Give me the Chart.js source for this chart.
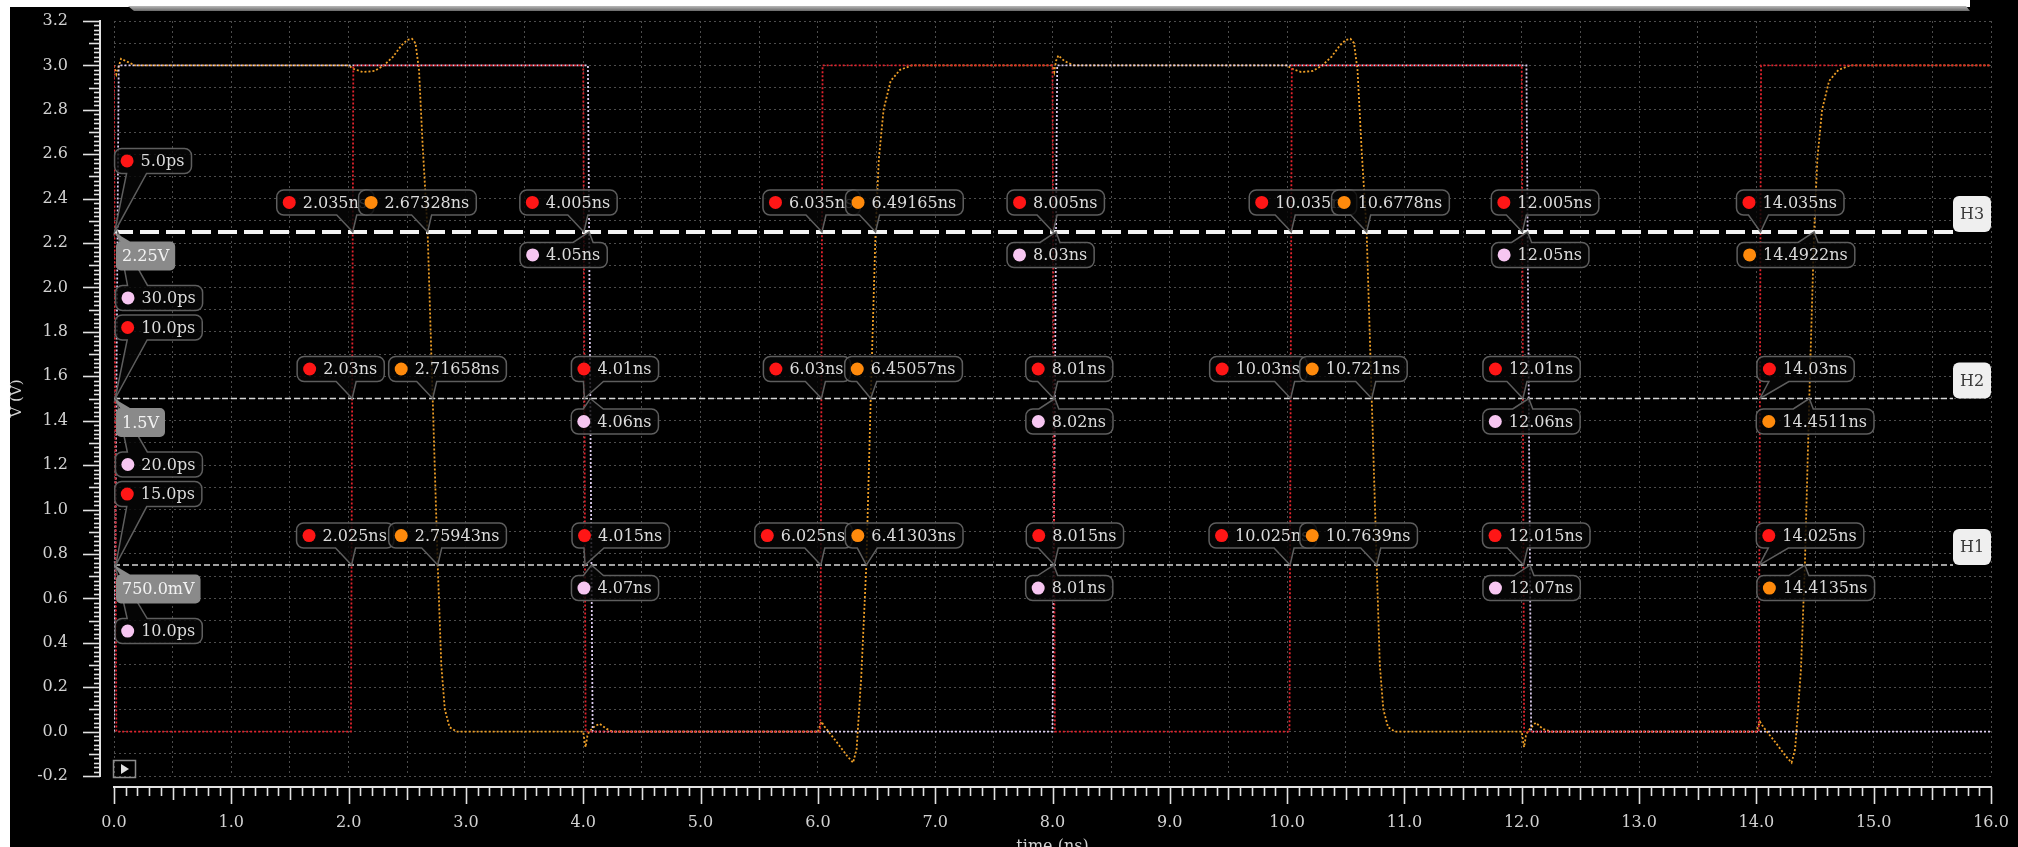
<!DOCTYPE html>
<html>
<head>
<meta charset="utf-8">
<title>Transient response</title>
<script src="https://cdn.jsdelivr.net/npm/chart.js@4.4.1/dist/chart.umd.min.js"></script>
<style>
  html, body { margin: 0; padding: 0; background: #000; overflow: hidden; }
  canvas { display: block; }
</style>
</head>
<body>
<canvas id="scope" width="2018" height="847"></canvas>
<script>
// ---------------- data ----------------
const timeRange = [0, 16];            // ns
const voltRange = [-0.2, 3.2];        // V
const levels = [0.75, 1.5, 2.25];     // threshold cursors H1, H2, H3
const levelNames = ['H1', 'H2', 'H3'];
const levelValueText = ['750.0mV', '1.5V', '2.25V'];

// input (red): toggles every 2 ns, 20 ps edges
const vinT = [0, 0.02, 2.02, 2.04, 4.0, 4.02, 6.02, 6.04, 8.0, 8.02, 10.02, 10.04, 12.0, 12.02, 14.02, 14.04, 16];
const vinV = [3.0, 0.0, 0.0, 3.0, 3.0, 0.0, 0.0, 3.0, 3.0, 0.0, 0.0, 3.0, 3.0, 0.0, 0.0, 3.0, 3.0];

// clock (pink): 8 ns period, 40 ps edges
const clkT = [0, 0.04, 4.04, 4.08, 8.0, 8.04, 12.04, 12.08, 16];
const clkV = [0.0, 3.0, 3.0, 0.0, 0.0, 3.0, 3.0, 0.0, 0.0];

// output (orange)
const outT = [
  0, 0.02, 0.06, 0.1, 0.18,
  2.0, 2.04, 2.12, 2.22, 2.3, 2.38, 2.45, 2.5, 2.54, 2.57, 2.6, 2.63, 2.67328, 2.71658, 2.75943, 2.79, 2.82, 2.86, 2.92,
  4.0, 4.01, 4.02, 4.035, 4.05, 4.1, 4.14, 4.2, 4.25,
  6.0, 6.02, 6.03, 6.06, 6.15, 6.25, 6.3, 6.33, 6.37, 6.41303, 6.45057, 6.49165, 6.52, 6.56, 6.62, 6.7, 6.8,
  8.0, 8.015, 8.03, 8.05, 8.1, 8.18,
  10.0, 10.04, 10.12, 10.22, 10.3, 10.38, 10.45, 10.5, 10.54, 10.57, 10.6, 10.635, 10.6778, 10.721, 10.7639, 10.79, 10.82, 10.86, 10.92,
  12.0, 12.01, 12.02, 12.035, 12.05, 12.1, 12.12, 12.18, 12.25,
  14.0, 14.02, 14.03, 14.06, 14.15, 14.25, 14.3, 14.33, 14.38, 14.4135, 14.4511, 14.4922, 14.52, 14.56, 14.62, 14.7, 14.8,
  16.0
];
const outV = [
  3.0, 2.96, 3.03, 3.02, 3.0,
  3.0, 2.985, 2.97, 2.975, 3.0, 3.04, 3.09, 3.115, 3.12, 3.1, 2.98, 2.65, 2.25, 1.5, 0.75, 0.3, 0.1, 0.02, 0.0,
  0.0, -0.04, -0.07, -0.02, 0.0, 0.025, 0.035, 0.012, 0.0,
  0.0, 0.03, 0.045, 0.02, -0.04, -0.11, -0.14, -0.08, 0.25, 0.75, 1.5, 2.25, 2.58, 2.8, 2.93, 2.98, 3.0,
  3.0, 2.97, 3.02, 3.045, 3.02, 3.0,
  3.0, 2.985, 2.97, 2.975, 3.0, 3.04, 3.09, 3.115, 3.12, 3.1, 2.98, 2.62, 2.25, 1.5, 0.75, 0.3, 0.1, 0.02, 0.0,
  0.0, -0.04, -0.07, -0.02, 0.0, 0.03, 0.04, 0.012, 0.0,
  0.0, 0.03, 0.045, 0.02, -0.04, -0.11, -0.14, -0.08, 0.28, 0.75, 1.5, 2.25, 2.58, 2.8, 2.93, 2.98, 3.0,
  3.0
];

// cursor readouts: [trace, threshold index, crossing time in ns]
const readouts = [
  ['vin', 2, 0.005], ['clk', 2, 0.03], ['vin', 1, 0.010], ['clk', 1, 0.020], ['vin', 0, 0.015], ['clk', 0, 0.010],

  ['vin', 2, 2.035], ['out', 2, 2.67328], ['vin', 2, 4.005], ['clk', 2, 4.05],
  ['vin', 2, 6.035], ['out', 2, 6.49165], ['vin', 2, 8.005], ['clk', 2, 8.03],
  ['vin', 2, 10.035], ['out', 2, 10.6778], ['vin', 2, 12.005], ['clk', 2, 12.05],
  ['vin', 2, 14.035], ['out', 2, 14.4922],

  ['vin', 1, 2.03], ['out', 1, 2.71658], ['vin', 1, 4.01], ['clk', 1, 4.06],
  ['vin', 1, 6.03], ['out', 1, 6.45057], ['vin', 1, 8.01], ['clk', 1, 8.02],
  ['vin', 1, 10.03], ['out', 1, 10.721], ['vin', 1, 12.01], ['clk', 1, 12.06],
  ['vin', 1, 14.03], ['out', 1, 14.4511],

  ['vin', 0, 2.025], ['out', 0, 2.75943], ['vin', 0, 4.015], ['clk', 0, 4.07],
  ['vin', 0, 6.025], ['out', 0, 6.41303], ['vin', 0, 8.015], ['clk', 0, 8.01],
  ['vin', 0, 10.025], ['out', 0, 10.7639], ['vin', 0, 12.015], ['clk', 0, 12.07],
  ['vin', 0, 14.025], ['out', 0, 14.4135]
];

// ---------------- layout ----------------
// readout box offsets in px: [box left minus crossing x, box centre minus threshold y]
const UP = -29.5, DN = 23;
const readoutPlacement = [
  [0, -71], [-2, 66], [0, -71], [-1, 66], [-1, -71], [0, 66],

  [-76, UP], [-69, UP], [-64, UP], [-69, DN],
  [-59, UP], [-30, UP], [-46, UP], [-49, DN],
  [-42, UP], [-35, UP], [-31, UP], [-36, DN],
  [-24, UP], [-77, DN],

  [-55, UP], [-44, UP], [-13, UP], [-19, DN],
  [-58, UP], [-26, UP], [-28, UP], [-29, DN],
  [-81, UP], [-72, UP], [-40, UP], [-46, DN],
  [-3, UP], [-53, DN],

  [-55, UP], [-49, UP], [-13, UP], [-20, DN],
  [-66, UP], [-21, UP], [-28, UP], [-28, DN],
  [-81, UP], [-77, UP], [-41, UP], [-47, DN],
  [-3, UP], [-48, DN]
];

const traceStyle = {
  vin: { line: '#e2232d', dot: '#ff1616' },
  clk: { line: '#dccbee', dot: '#f7c6f1' },
  out: { line: '#ef9f26', dot: '#ff8a0c' }
};

const SERIF = '"DejaVu Serif", "Liberation Serif", serif';

function toPoints(ts, vs) { return ts.map((t, i) => ({ x: t, y: vs[i] })); }

function fmtTime(t) {
  return t < 1 ? (t * 1000).toFixed(1) + 'ps' : String(t) + 'ns';
}

function roundRectPath(ctx, x, y, w, h, r) {
  ctx.beginPath();
  ctx.moveTo(x + r, y);
  ctx.lineTo(x + w - r, y); ctx.arcTo(x + w, y, x + w, y + r, r);
  ctx.lineTo(x + w, y + h - r); ctx.arcTo(x + w, y + h, x + w - r, y + h, r);
  ctx.lineTo(x + r, y + h); ctx.arcTo(x, y + h, x, y + h - r, r);
  ctx.lineTo(x, y + r); ctx.arcTo(x, y, x + r, y, r);
  ctx.closePath();
}

// rounded box with a pointer running to (ax, ay)
function bubblePath(ctx, x, y, w, h, r, ax, ay, b0, b1, tailBottom) {
  ctx.beginPath();
  ctx.moveTo(x + r, y);
  if (!tailBottom) { ctx.lineTo(b0, y); ctx.lineTo(ax, ay); ctx.lineTo(b1, y); }
  ctx.lineTo(x + w - r, y); ctx.arcTo(x + w, y, x + w, y + r, r);
  ctx.lineTo(x + w, y + h - r); ctx.arcTo(x + w, y + h, x + w - r, y + h, r);
  if (tailBottom) { ctx.lineTo(b1, y + h); ctx.lineTo(ax, ay); ctx.lineTo(b0, y + h); }
  ctx.lineTo(x + r, y + h); ctx.arcTo(x, y + h, x, y + h - r, r);
  ctx.lineTo(x, y + r); ctx.arcTo(x, y, x + r, y, r);
  ctx.closePath();
}

// window chrome behind the plot
const backdrop = {
  id: 'backdrop',
  beforeDraw(chart) {
    const ctx = chart.ctx;
    ctx.save();
    ctx.fillStyle = '#000';
    ctx.fillRect(0, 0, chart.width, chart.height);
    ctx.fillStyle = '#ffffff';
    ctx.fillRect(0, 0, 10, chart.height);
    ctx.fillRect(0, 0, 1970, 7);
    const g = ctx.createLinearGradient(0, 6, 0, 11);
    g.addColorStop(0, '#b8b8b8');
    g.addColorStop(1, '#6a6a6a');
    ctx.fillStyle = g;
    ctx.beginPath();
    ctx.moveTo(128, 6); ctx.lineTo(1966, 6); ctx.lineTo(1970, 11); ctx.lineTo(134, 11); ctx.closePath();
    ctx.fill();
    ctx.restore();
  }
};

// ruler-style axes with fine subdivisions
const rulers = {
  id: 'rulers',
  afterDraw(chart) {
    const ctx = chart.ctx;
    const xs = chart.scales.x, ys = chart.scales.y;
    ctx.save();
    ctx.strokeStyle = '#e2e2e2';
    ctx.lineCap = 'butt';

    // vertical ruler
    const rx = 100;
    ctx.lineWidth = 2;
    ctx.beginPath();
    ctx.moveTo(rx, ys.getPixelForValue(voltRange[1]) - 1);
    ctx.lineTo(rx, ys.getPixelForValue(voltRange[0]) + 1);
    ctx.stroke();
    ctx.lineWidth = 1.6;
    for (let k = -10; k <= 160; k++) {
      const v = k * 0.02;
      const y = Math.round(ys.getPixelForValue(v)) + 0.5;
      const len = (k % 10 === 0) ? 17 : (k % 5 === 0 ? 11 : 6);
      ctx.beginPath(); ctx.moveTo(rx - len, y); ctx.lineTo(rx, y); ctx.stroke();
    }

    // horizontal ruler
    const ry = 787;
    ctx.lineWidth = 2;
    ctx.beginPath();
    ctx.moveTo(xs.getPixelForValue(timeRange[0]) - 1, ry);
    ctx.lineTo(xs.getPixelForValue(timeRange[1]) + 1, ry);
    ctx.stroke();
    ctx.lineWidth = 1.6;
    for (let k = 0; k <= 160; k++) {
      const x = Math.round(xs.getPixelForValue(k / 10)) + 0.5;
      const len = (k % 10 === 0) ? 17 : (k % 5 === 0 ? 13 : 9);
      ctx.beginPath(); ctx.moveTo(x, ry); ctx.lineTo(x, ry + len); ctx.stroke();
    }

    // small play button in the plot corner
    const px = xs.getPixelForValue(0);
    ctx.strokeStyle = '#8c8c8c';
    ctx.lineWidth = 1.5;
    ctx.strokeRect(px - 0.5, 760.5, 22, 17);
    ctx.fillStyle = '#e0e0e0';
    ctx.beginPath(); ctx.moveTo(px + 7, 764); ctx.lineTo(px + 7, 774); ctx.lineTo(px + 15, 769); ctx.closePath(); ctx.fill();
    ctx.restore();
  }
};

// threshold cursors, crossing readouts and their tags
const cursors = {
  id: 'cursors',
  afterDatasetsDraw(chart) {
    const ctx = chart.ctx;
    const xs = chart.scales.x, ys = chart.scales.y;
    const area = chart.chartArea;
    const tagW = 38, tagH = 36;
    const tagLeft = area.right - tagW;
    ctx.save();

    // cursor lines
    levels.forEach((lv, i) => {
      const y = ys.getPixelForValue(lv);
      ctx.strokeStyle = i === 2 ? '#f4f4f4' : '#d6d6d6';
      ctx.lineWidth = i === 2 ? 4 : 1.6;
      ctx.setLineDash(i === 2 ? [19, 7] : [6, 3]);
      ctx.beginPath();
      ctx.moveTo(area.left, y);
      ctx.lineTo(tagLeft, y);
      ctx.stroke();
    });
    ctx.setLineDash([]);

    // crossing readouts
    ctx.font = '16px ' + SERIF;
    ctx.textBaseline = 'middle';
    const boxH = 25;
    readouts.forEach((r, i) => {
      const [trace, li, t] = r;
      const [dx, dy] = readoutPlacement[i];
      const ax = xs.getPixelForValue(t);
      const ay = ys.getPixelForValue(levels[li]);
      const text = fmtTime(t);
      const w = 26 + ctx.measureText(text).width + 7;
      const left = ax + dx;
      const top = ay + dy - boxH / 2;
      const tailBottom = dy < 0;
      const c = Math.min(Math.max(ax - 6, left + 22), left + w - 20);
      bubblePath(ctx, left, top, w, boxH, 7, ax, ay, c - 10, c + 10, tailBottom);
      ctx.fillStyle = 'rgba(6,6,6,0.82)';
      ctx.fill();
      ctx.strokeStyle = '#5e5e5e';
      ctx.lineWidth = 1.5;
      ctx.stroke();
      ctx.fillStyle = traceStyle[trace].dot;
      ctx.beginPath();
      ctx.arc(left + 12.5, top + boxH / 2, 6.5, 0, Math.PI * 2);
      ctx.fill();
      ctx.fillStyle = '#dcdcdc';
      ctx.textAlign = 'left';
      ctx.fillText(text, left + 26, top + boxH / 2 + 1);
    });

    // threshold value tags at the left
    levels.forEach((lv, i) => {
      const y = ys.getPixelForValue(lv);
      const text = levelValueText[i];
      const w = ctx.measureText(text).width + 12;
      const left = area.left + 2, top = y + 24 - 14.5, h = 29;
      bubblePath(ctx, left, top, w, h, 5, area.left, y, left + 4, left + 14, false);
      ctx.fillStyle = '#8a8a8a';
      ctx.fill();
      ctx.fillStyle = '#f2f2f2';
      ctx.textAlign = 'left';
      ctx.fillText(text, left + 6, top + h / 2 + 1);
    });

    // H tags at the right
    levels.forEach((lv, i) => {
      const y = ys.getPixelForValue(lv);
      roundRectPath(ctx, tagLeft, y - tagH, tagW, tagH, 6);
      ctx.fillStyle = '#efefef';
      ctx.fill();
      ctx.fillStyle = '#383838';
      ctx.textAlign = 'center';
      ctx.fillText(levelNames[i], tagLeft + tagW / 2, y - tagH / 2 + 1);
    });
    ctx.restore();
  }
};

function traceDataset(label, ts, vs) {
  return {
    label,
    data: toPoints(ts, vs),
    borderColor: traceStyle[label].line,
    borderWidth: 1.8,
    borderDash: [2, 2],
    borderCapStyle: 'butt',
    pointRadius: 0,
    fill: false,
    tension: 0
  };
}

new Chart(document.getElementById('scope').getContext('2d'), {
  type: 'line',
  data: {
    datasets: [
      traceDataset('vin', vinT, vinV),
      traceDataset('clk', clkT, clkV),
      traceDataset('out', outT, outV)
    ]
  },
  options: {
    responsive: false,
    animation: false,
    devicePixelRatio: 1,
    parsing: false,
    layout: { padding: { left: 0, right: 27, top: 21, bottom: 0 } },
    plugins: { legend: { display: false }, tooltip: { enabled: false } },
    scales: {
      x: {
        type: 'linear',
        min: timeRange[0],
        max: timeRange[1],
        afterFit(scale) { scale.height = 71; },
        ticks: {
          stepSize: 0.5,
          autoSkip: false,
          maxRotation: 0,
          padding: 0,
          color: '#d2d2d2',
          font: { family: SERIF, size: 16 },
          callback: v => Number.isInteger(v) ? v.toFixed(1) : ''
        },
        grid: { color: '#4c4c4c', lineWidth: 1, drawTicks: true, tickLength: 37, tickColor: 'rgba(0,0,0,0)' },
        border: { display: false, dash: [2, 3] },
        title: {
          display: true,
          text: 'time (ns)',
          color: '#d2d2d2',
          font: { family: SERIF, size: 16 },
          padding: { top: 0, bottom: -9 }
        }
      },
      y: {
        type: 'linear',
        min: voltRange[0],
        max: voltRange[1],
        afterFit(scale) { scale.width = 114; },
        ticks: {
          stepSize: 0.1,
          autoSkip: false,
          padding: 0,
          color: '#d2d2d2',
          font: { family: SERIF, size: 16 },
          callback: v => (Math.round(v * 10) % 2 === 0) ? v.toFixed(1) : ''
        },
        grid: { color: '#4c4c4c', lineWidth: 1, drawTicks: true, tickLength: 46, tickColor: 'rgba(0,0,0,0)' },
        border: { display: false, dash: [2, 3] },
        title: {
          display: true,
          text: 'V (V)',
          color: '#d2d2d2',
          font: { family: SERIF, size: 15 },
          padding: { top: 8, bottom: 0 }
        }
      }
    }
  },
  plugins: [backdrop, cursors, rulers]
});
</script>
</body>
</html>
